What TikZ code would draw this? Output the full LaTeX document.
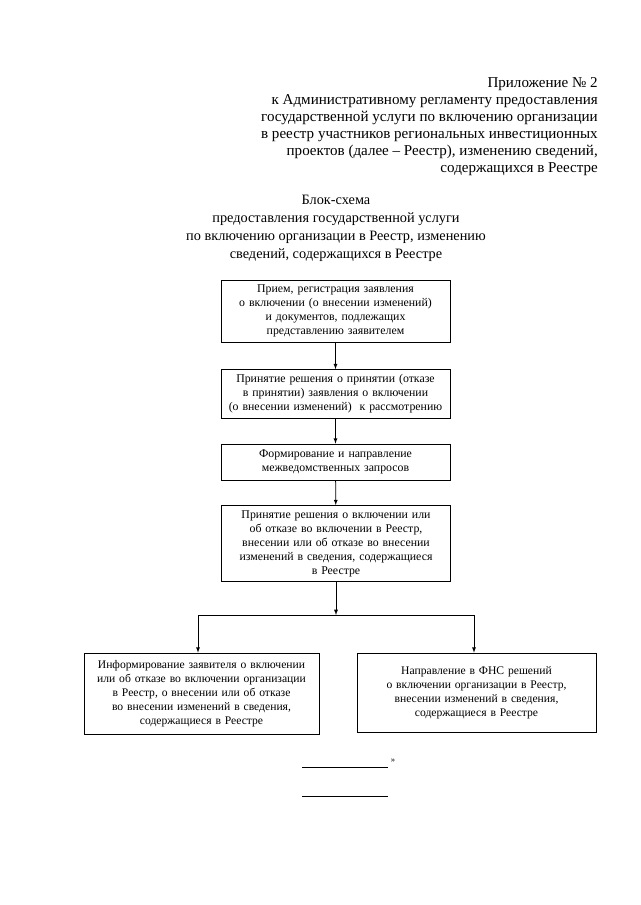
\documentclass[tikz,border=0pt]{standalone}
\usepackage{fontspec}
\setmainfont{Liberation Serif}
\usepackage{tikz}
\usetikzlibrary{arrows}

\begin{document}
\begin{tikzpicture}[x=0.9297pt,y=-0.9297pt,
    blok/.style={draw,line width=0.7pt,align=center,inner sep=1pt,
      font=\fontsize{11}{13}\selectfont},
    strelka/.style={line width=0.7pt,-latex}]
          \useasboundingbox (0,0) rectangle (640,905);
          % header
          \node[anchor=north east,align=right,inner sep=0pt,
            font=\fontsize{14}{15.8}\selectfont] (prilozh) at (598,77)
            {Приложение № 2\\
             к Административному регламенту предоставления\\
             государственной услуги по включению организации\\
             в реестр участников региональных инвестиционных\\
             проектов (далее -- Реестр), изменению сведений,\\
             содержащихся в Реестре};
          \node[anchor=north,align=center,inner sep=0pt,
            font=\fontsize{13.3}{16.8}\selectfont] (zagl) at (336,195)
            {Блок-схема\\
             предоставления государственной услуги\\
             по включению организации в Реестр, изменению\\
             сведений, содержащихся в Реестре};
          % boxes
          \node[blok,text width=211pt,minimum height=57.6pt] (priem) at (335.5,311)
            {Прием, регистрация заявления\\
             о включении (о внесении изменений)\\
             и документов, подлежащих\\
             представлению заявителем};
          \node[blok,text width=211pt,minimum height=45.5pt] (prinyatie) at (335.5,394)
            {Принятие решения о принятии (отказе\\
             в принятии) заявления о включении\\
             (о внесении изменений)\ \ к рассмотрению};
          \node[blok,text width=211pt,minimum height=33.5pt] (zaprosy) at (335.5,462)
            {Формирование и направление\\
             межведомственных запросов};
          \node[blok,text width=211pt,minimum height=70.7pt] (reshenie) at (336,543.5)
            {Принятие решения о включении или\\
             об отказе во включении в Реестр,\\
             внесении или об отказе во внесении\\
             изменений в сведения, содержащиеся\\
             в Реестре};
          \node[blok,font=\fontsize{10.8}{13}\selectfont,text width=216.5pt,
            minimum height=75.3pt] (inform) at (201.5,693.5)
            {Информирование заявителя о включении\\
             или об отказе во включении организации\\
             в Реестр, о внесении или об отказе\\
             во внесении изменений в сведения,\\
             содержащиеся в Реестре};
          \node[blok,font=\fontsize{10.8}{13}\selectfont,text width=220pt,
            minimum height=73.4pt] (fns) at (476.5,692.5)
            {Направление в ФНС решений\\
             о включении организации в Реестр,\\
             внесении изменений в сведения,\\
             содержащиеся в Реестре};
          % arrows
          \coordinate (razv) at (336,615);
          \coordinate (razvL) at (198,615);
          \coordinate (razvR) at (474,615);
          \draw[strelka] (priem) -- (prinyatie);
          \draw[strelka] (prinyatie) -- (zaprosy);
          \draw[strelka] (zaprosy) -- (reshenie);
          \draw[strelka] (reshenie) -- (razv);
          \draw[line width=0.7pt] (razvL) -- (razvR);
          \draw[strelka] (razvL) -- (razvL |- inform.north);
          \draw[strelka] (razvR) -- (razvR |- fns.north);
          % lines at the bottom
          \coordinate (l1a) at (302,767);
          \coordinate (l1b) at (388,767);
          \coordinate (l2a) at (302,796);
          \coordinate (l2b) at (388,796);
          \draw[line width=0.7pt] (l1a) -- (l1b);
          \draw[line width=0.7pt] (l2a) -- (l2b);
          \node[font=\fontsize{8}{9}\selectfont,inner sep=0pt] (kav) at (393,761) {»};
        \end{tikzpicture}
\end{document}
